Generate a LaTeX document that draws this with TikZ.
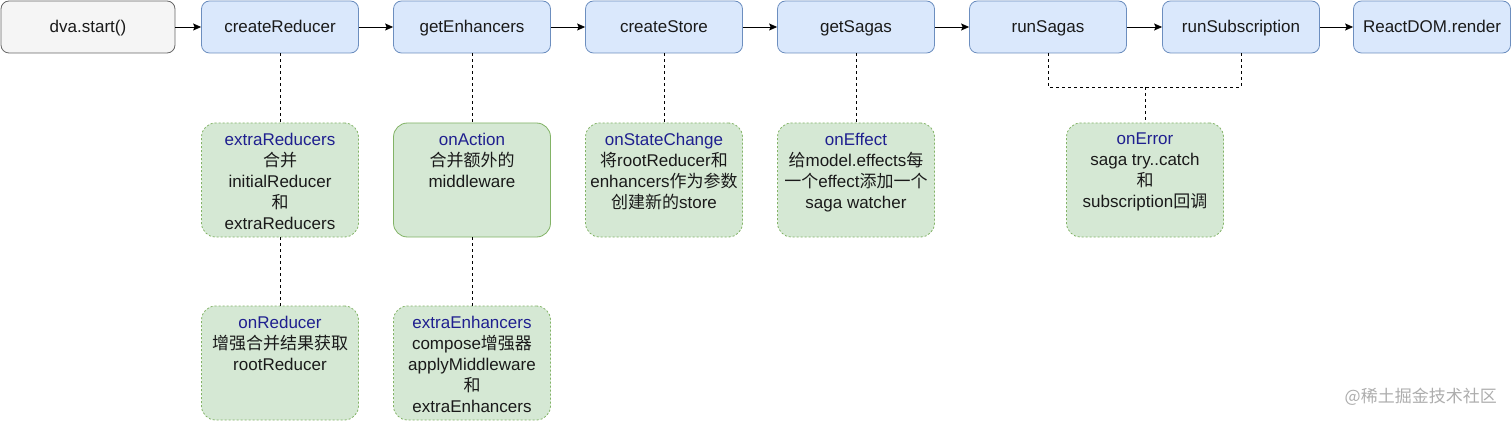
\documentclass[tikz,border=0pt]{standalone}
\usepackage{fontspec}
\setmainfont{Liberation Sans}
\newfontfamily\cjk{Noto Sans CJK SC}
\usetikzlibrary{arrows.meta}
\definecolor{txt}{HTML}{1A1A1A}
\definecolor{ttl}{HTML}{1F1F8F}
\definecolor{grayb}{HTML}{666666}
\definecolor{grayf}{HTML}{F5F5F5}
\definecolor{blueb}{HTML}{6C8EBF}
\definecolor{bluef}{HTML}{DAE8FC}
\definecolor{greenb}{HTML}{82B366}
\definecolor{greenf}{HTML}{D5E8D4}
\definecolor{wm}{HTML}{ADADAD}
\tikzset{
  base/.style={rectangle, rounded corners=8pt, minimum width=157pt, minimum height=52pt, inner sep=0pt, font=\fontsize{17}{21}\selectfont, text=txt, line width=0.8pt, text height=12pt, text depth=0pt},
  startbox/.style={base, draw=grayb, fill=grayf, minimum width=174pt},
  bluebox/.style={base, draw=blueb, fill=bluef},
  greenbox/.style={rectangle, rounded corners=14pt, minimum width=157pt, minimum height=114pt, inner sep=0pt, draw=greenb, fill=greenf, line width=0.8pt, dash pattern=on 2pt off 2pt},
  greensolid/.style={greenbox, solid},
  gtext/.style={anchor=north, align=center, inner sep=0pt, font=\fontsize{17}{21}\selectfont, text=txt},
  flow/.style={draw=black, line width=0.8pt, -{Stealth[length=8pt, width=7pt, inset=1.5pt]}},
  link/.style={draw=black, line width=0.8pt, dash pattern=on 3pt off 3pt},
}
\newcommand{\ttlc}[1]{\textcolor{ttl}{#1}}
\begin{document}
\begin{tikzpicture}[x=1pt, y=-1pt]
\useasboundingbox (0,0) rectangle (1512,422);
% top row
\node[startbox] (start) at (88,27) {dva.start()};
\node[bluebox] (cr) at (280,27) {createReducer};
\node[bluebox] (ge) at (472,27) {getEnhancers};
\node[bluebox] (cs) at (664,27) {createStore};
\node[bluebox] (gs) at (856,27) {getSagas};
\node[bluebox] (rs) at (1048,27) {runSagas};
\node[bluebox] (rsub) at (1241,27) {runSubscription};
\node[bluebox] (rdom) at (1432,27) {ReactDOM.render};
\draw[flow] (start) -- (cr);
\draw[flow] (cr) -- (ge);
\draw[flow] (ge) -- (cs);
\draw[flow] (cs) -- (gs);
\draw[flow] (gs) -- (rs);
\draw[flow] (rs) -- (rsub);
\draw[flow] (rsub) -- (rdom);
% second row
\node[greenbox] (er) at (280,180) {};
\node[greensolid] (oa) at (472,180) {};
\node[greenbox] (osc) at (664,180) {};
\node[greenbox] (oe) at (856,180) {};
\node[greenbox] (oerr) at (1145,180) {};
% third row
\node[greenbox] (or) at (280,363) {};
\node[greenbox] (ee) at (472,363) {};
% texts
\node[gtext] (t-er) at ([yshift=-10pt]er.north) {\ttlc{extraReducers}\\{\cjk 合并}\\initialReducer\\{\cjk 和}\\extraReducers};
\node[gtext] (t-oa) at ([yshift=-10pt]oa.north) {\ttlc{onAction}\\{\cjk 合并额外的}\\middleware};
\node[gtext] (t-osc) at ([yshift=-10pt]osc.north) {\ttlc{onStateChange}\\{\cjk 将}rootReducer{\cjk 和}\\enhancers{\cjk 作为参数}\\{\cjk 创建新的}store};
\node[gtext] (t-oe) at ([yshift=-10pt]oe.north) {\ttlc{onEffect}\\{\cjk 给}model.effects{\cjk 每}\\{\cjk 一个}effect{\cjk 添加一个}\\saga watcher};
\node[gtext] (t-oerr) at ([yshift=-10pt]oerr.north) {\ttlc{onError}\\saga try..catch\\{\cjk 和}\\subscription{\cjk 回调}};
\node[gtext] (t-or) at ([yshift=-10pt]or.north) {\ttlc{onReducer}\\{\cjk 增强合并结果获取}\\rootReducer};
\node[gtext] (t-ee) at ([yshift=-10pt]ee.north) {\ttlc{extraEnhancers}\\compose{\cjk 增强器}\\applyMiddleware\\{\cjk 和}\\extraEnhancers};
% dashed links
\draw[link] (cr) -- (er);
\draw[link] (er) -- (or);
\draw[link] (ge) -- (oa);
\draw[link] (oa) -- (ee);
\draw[link] (cs) -- (osc);
\draw[link] (gs) -- (oe);
\coordinate (j1) at (1048,87);
\coordinate (j2) at (1241,87);
\coordinate (jm) at (1145,87);
\draw[link] (rs.south) -- (j1) -- (j2) -- (rsub.south);
\draw[link] (jm) -- (oerr.north);
% watermark
\node[anchor=east, inner sep=0pt, text=wm, font=\cjk\fontsize{17}{21}\selectfont] (wm) at (1497,397) {@稀土掘金技术社区};
\end{tikzpicture}
\end{document}
